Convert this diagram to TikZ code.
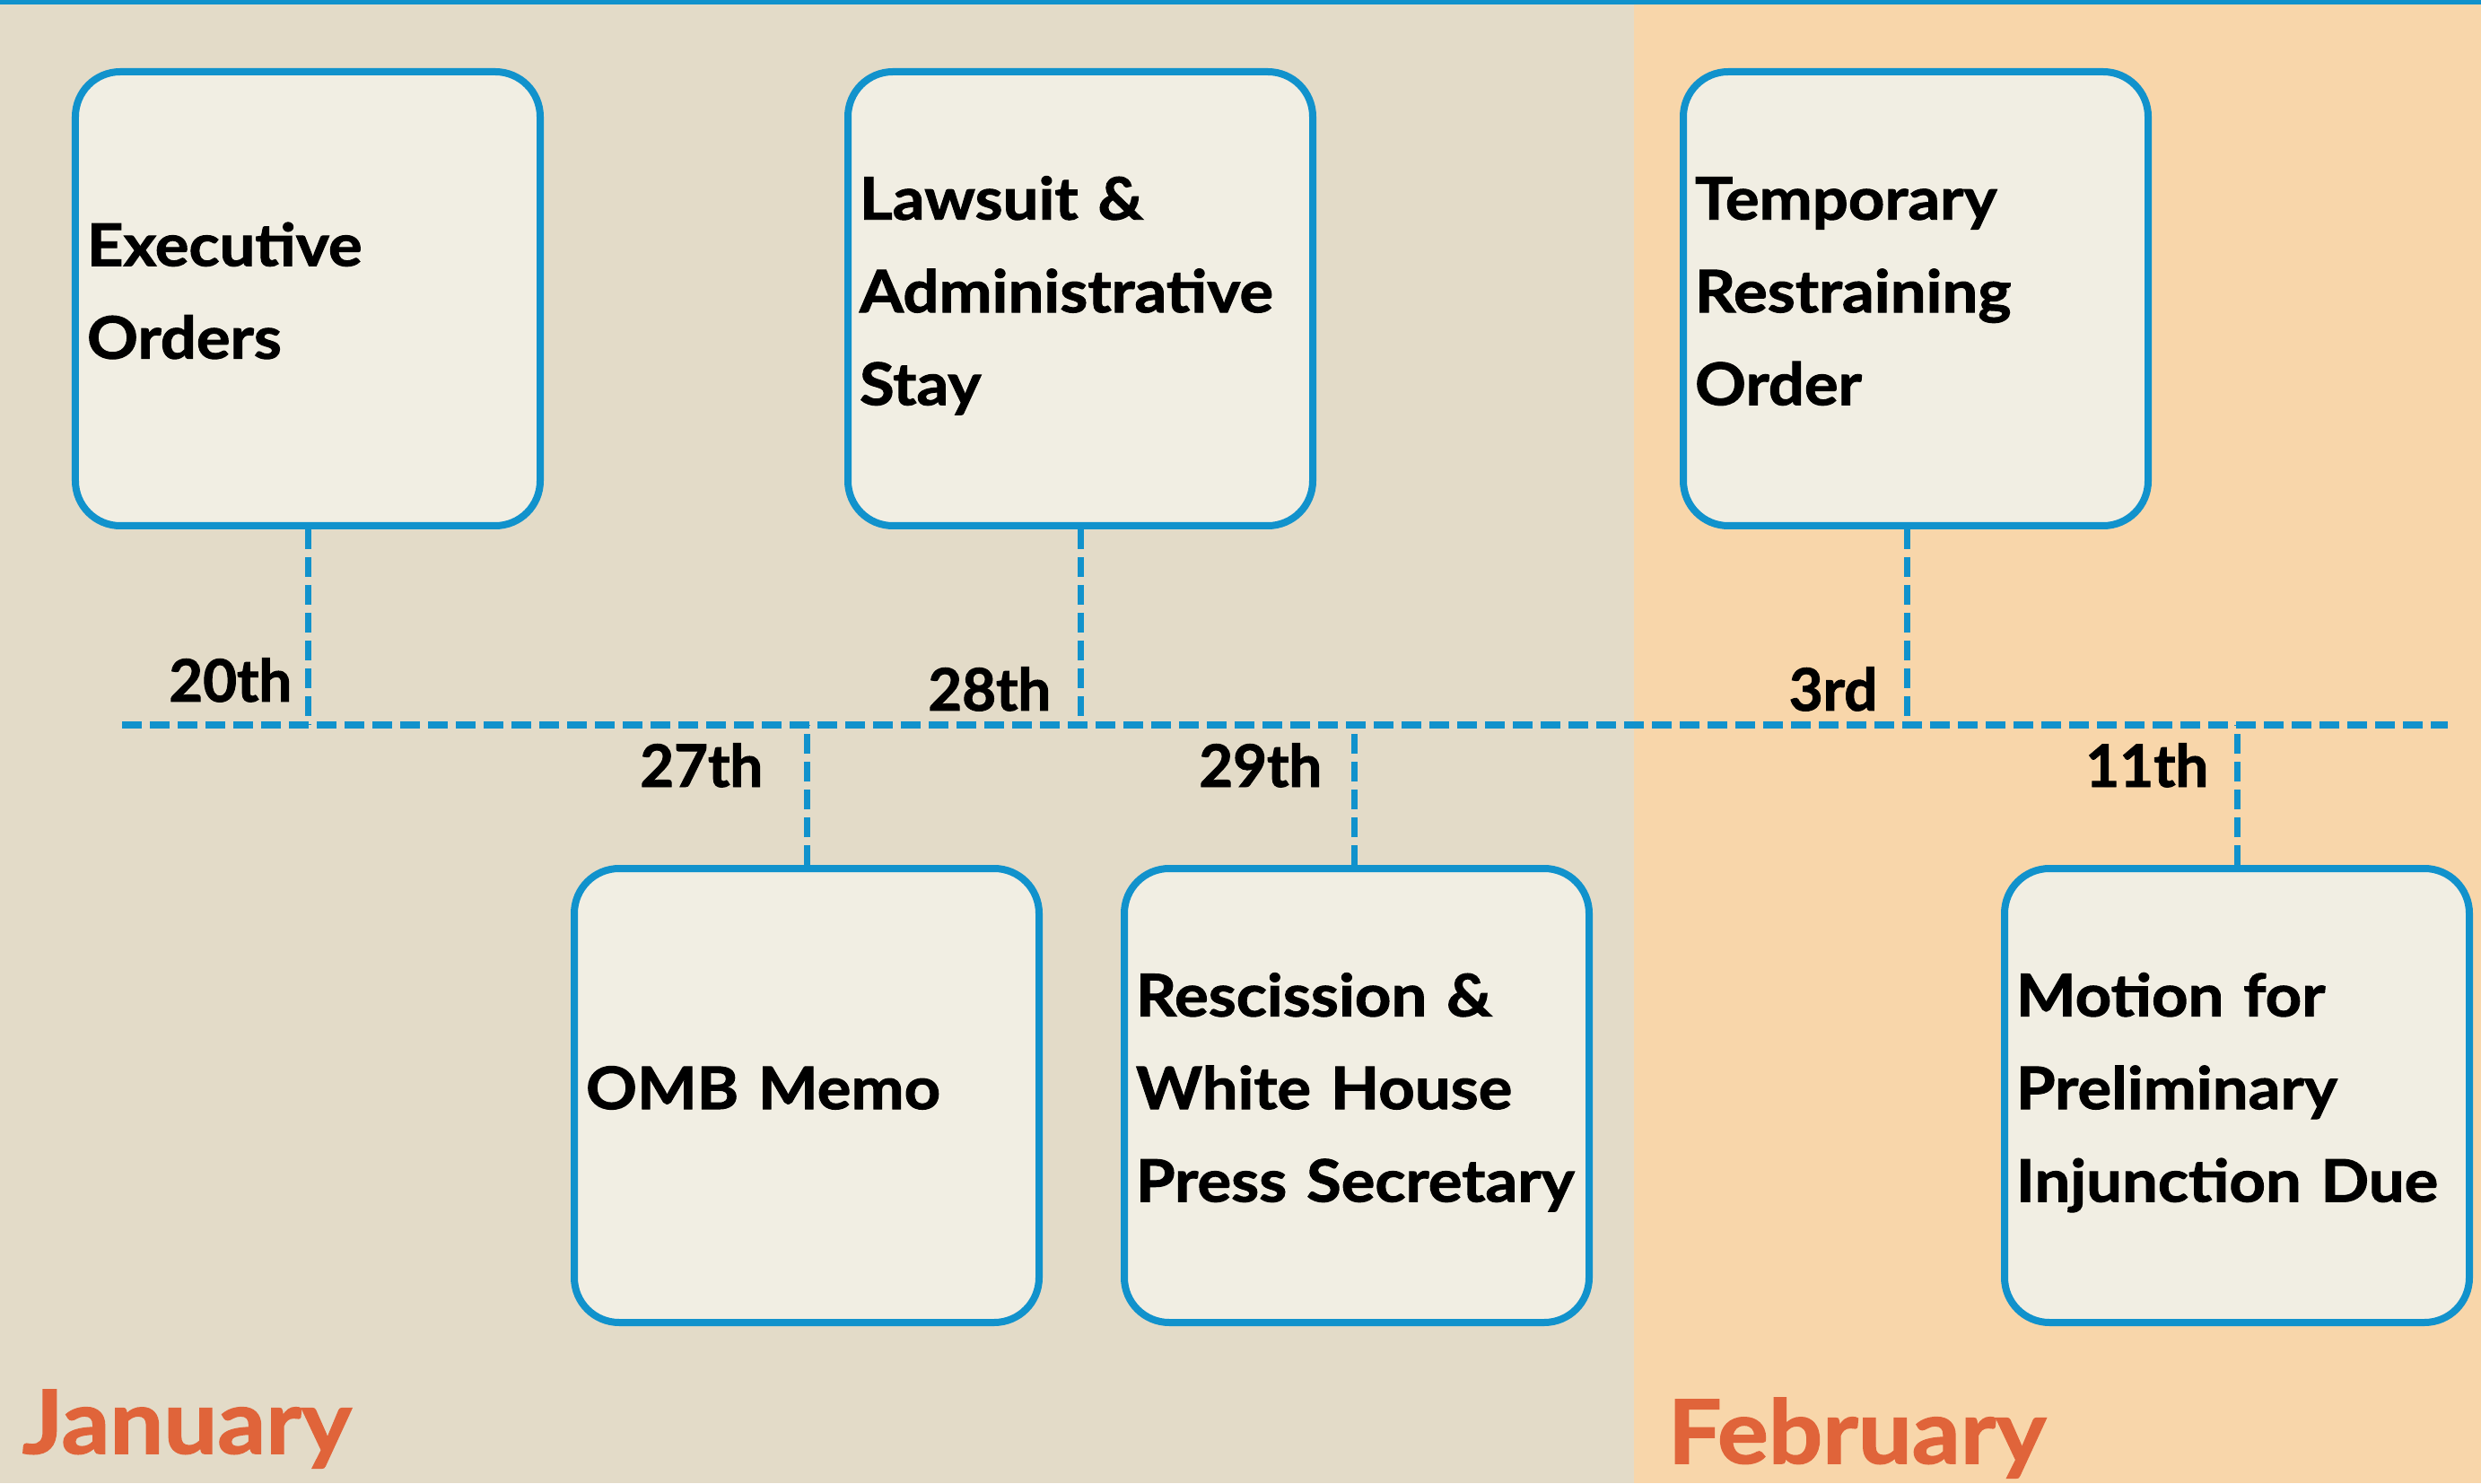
\documentclass[tikz,border=0pt]{standalone}
\usepackage{fontspec}
\setmainfont{Lato}[BoldFeatures={FakeStretch=1.08, FakeBold=1.5}]
\newfontfamily\datefont{Lato}[BoldFeatures={FakeBold=1.5}]
\definecolor{janbg}{HTML}{E3DBC8}
\definecolor{febbg}{HTML}{F8D6AA}
\definecolor{boxfill}{HTML}{F1EEE3}
\definecolor{tlblue}{HTML}{1192CC}
\definecolor{monthorange}{HTML}{E0643A}
\begin{document}
\begin{tikzpicture}[
  evbox/.style={draw=tlblue, fill=boxfill, line width=0.08cm, rounded corners=0.5cm,
    minimum width=5.18cm, minimum height=5.06cm, text width=4.92cm,
    inner xsep=0.13cm, inner ysep=0pt, align=left,
    font=\fontsize{18.6}{29.4}\selectfont\bfseries,
    execute at begin node=\strut, execute at end node={\rule[-12pt]{0pt}{1pt}}},
  tick/.style={draw=tlblue, line width=0.07cm, dash pattern=on 0.22cm off 0.09cm},
  datelbl/.style={inner sep=0pt, anchor=base east, font=\datefont\fontsize{18.6}{22}\selectfont\bfseries},
  month/.style={inner sep=0pt, anchor=base west, text=monthorange,
    font=\fontsize{28}{33}\selectfont\bfseries}]
\useasboundingbox (0,0) rectangle (27.65,16.53);
\fill[janbg] (0,0) rectangle (18.21,16.53);
\fill[febbg] (18.21,0) rectangle (27.65,16.53);
\fill[tlblue] (0,16.48) rectangle (27.65,16.53);

\coordinate (tlstart) at (1.36,8.45);
\coordinate (tlend) at (27.28,8.45);
\draw[tick, line width=0.08cm] (tlstart) -- (tlend);

\node[evbox] (exec) at (3.43,13.20) {Executive\\Orders};
\node[evbox] (lawsuit) at (12.04,13.20) {Lawsuit \&\\Administrative\\Stay};
\node[evbox] (tro) at (21.35,13.20) {Temporary\\Restraining\\Order};
\node[evbox] (omb) at (8.99,4.32) {OMB Memo};
\node[evbox] (rescind) at (15.12,4.32) {Rescission \&\\White House\\Press~Secretary};
\node[evbox] (motion) at (24.93,4.32) {Motion for\\Preliminary\\Injunction~Due};

\draw[tick] (exec) -- (exec |- tlstart);
\draw[tick] (lawsuit) -- (lawsuit |- tlstart);
\draw[tick] ([xshift=-0.1cm]tro.south) -- ([xshift=-0.1cm]tro.south |- tlstart);
\draw[tick] (omb) -- (omb |- tlstart);
\draw[tick] ([xshift=-0.03cm]rescind.north) -- ([xshift=-0.03cm]rescind.north |- tlstart);
\draw[tick] (motion) -- (motion |- tlstart);

\node[datelbl] (d20) at (3.26,8.71) {20th};
\node[datelbl] (d28) at (11.72,8.61) {28th};
\node[datelbl] (d3) at (20.93,8.61) {3rd};
\node[datelbl] (d27) at (8.51,7.76) {27th};
\node[datelbl] (d29) at (14.74,7.76) {29th};
\node[datelbl] (d11) at (24.62,7.76) {11th};

\node[month] (jan) at (0.24,0.33) {January};
\node[month] (feb) at (18.58,0.22) {February};
\end{tikzpicture}
\end{document}
